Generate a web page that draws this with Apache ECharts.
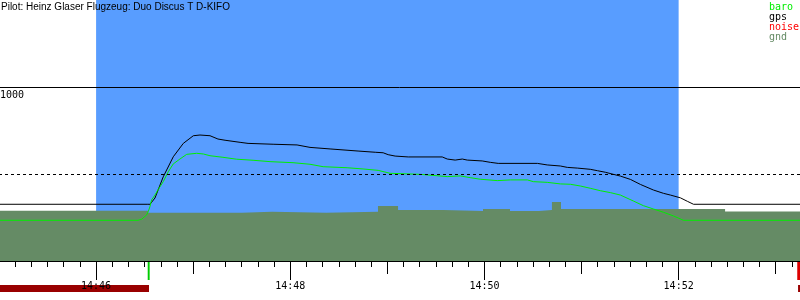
<!DOCTYPE html>
<html><head><meta charset="utf-8">
<script src="https://cdn.jsdelivr.net/npm/echarts@6/dist/echarts.min.js"></script>
<style>html,body{margin:0;padding:0;background:#fff}#c{width:800px;height:300px}</style>
</head><body><div id="c"></div>
<script>
// ---------- data ----------
const titleText = 'Pilot: Heinz Glaser Flugzeug: Duo Discus T D-KIFO';
const legendNames = ['baro', 'gps', 'noise', 'gnd'];
const viewStart = '14:45:00';
const viewEnd = '14:53:15';
const taskWindow = ['14:46:00', '14:52:00'];
const refLevels = [1000, 500];          // m : solid, dashed
const yLabelShown = [1000];
// seconds after viewStart
const gndSec = [0, 92.1, 150.2, 168.7, 202.1, 234.2, 246.6, 274.4, 299.1, 315.8, 333.7, 341.7, 347.3, 448.7, 495];
const gndAlt = [289, 277, 283, 277, 283, 316, 293, 287, 299, 287, 293, 339, 299, 285, 285];
const gpsSec = [0, 92.0, 93.3, 96.4, 101.5, 107.7, 113.9, 120.1, 124.2, 130.4, 135.3, 139.7, 149.0, 153.9, 169.4, 184.2, 192.2, 204.6, 221.9, 232.5, 237.4, 240.5, 244.8, 252.9, 273.9, 277.0, 281.9, 286.3, 289.4, 298.6, 303.6, 308.5, 332.7, 338.8, 346.9, 351.2, 357.4, 365.4, 369.8, 374.7, 379.7, 384.0, 390.2, 396.4, 404.4, 410.6, 414.9, 421.1, 425.4, 429.2, 495];
const gpsAlt = [326, 326, 326, 362, 484, 599, 676, 720, 724, 720, 701, 694, 682, 676, 671, 667, 653, 644, 632, 625, 622, 611, 603, 598, 598, 586, 580, 586, 580, 575, 567, 561, 561, 552, 546, 538, 534, 527, 519, 510, 498, 488, 469, 440, 408, 389, 379, 363, 343, 326, 326];
const baroSec = [0, 85.9, 88.1, 89.1, 91.2, 92.2, 93.3, 94.3, 96.4, 98.2, 101.5, 104.6, 107.7, 111.8, 116.0, 122.2, 126.3, 130.4, 138.4, 146.9, 157.0, 167.5, 181.7, 192.2, 200.3, 215.1, 225.0, 234.3, 241.7, 260.3, 270.8, 277.0, 285.0, 291.2, 297.4, 307.9, 316.0, 326.5, 330.2, 338.8, 346.9, 353.1, 359.3, 365.4, 371.6, 377.8, 384.0, 392.0, 398.2, 404.4, 410.6, 416.8, 423.0, 495];
const baroAlt = [234, 234, 240, 249, 264, 283, 313, 351, 379, 408, 456, 513, 558, 586, 613, 619, 615, 605, 596, 585, 579, 571, 565, 556, 542, 536, 529, 521, 504, 498, 490, 485, 489, 479, 470, 462, 466, 466, 456, 452, 443, 441, 431, 418, 404, 393, 379, 345, 318, 299, 280, 259, 234, 234];
const noiseSpans = [[0, 92.7], [493.8, 495]];        // dark red band
const markerSpans = [[91.9, 93.1, '#00cc00'], [493.3, 495, '#dd0000']];

// ---------- build ----------
function toSec(s) { const p = s.split(':').map(Number); return p[0] * 3600 + p[1] * 60 + (p[2] || 0); }
const sMin = toSec(viewStart), sMax = toSec(viewEnd);
const GL = -1;
const pps = (800 - GL) / (sMax - sMin);
const aMin = Math.floor(sMin / 120) * 120, aMax = Math.ceil(sMax / 120) * 120;
const g1Left = GL - (sMin - aMin) * pps;
const g1Right = -(aMax - sMax) * pps;
const pair = (ts, vs) => ts.map((t, i) => [sMin + t, vs[i]]);
const pad = n => (n < 10 ? '0' : '') + n;
const MONO = 'DejaVu Sans Mono';
const colors = { baro: '#00ee00', gps: '#000000', noise: '#ff0000', gnd: '#658b65' };

const hidX = (gi, min, max) => ({ gridIndex: gi, type: 'value', min, max, show: false });
const hidY = gi => ({ gridIndex: gi, type: 'value', min: 0, max: 1, show: false });
const tickAxis = (interval, len, labels) => ({
  gridIndex: 1, type: 'value', position: 'bottom', min: aMin, max: aMax, interval, z: 10,
  axisLine: { show: labels, onZero: false, lineStyle: { color: '#000', width: 1 } },
  axisTick: { show: true, length: len, lineStyle: { color: '#000', width: 1 } },
  splitLine: { show: false },
  axisLabel: labels ? {
    show: true, margin: 20, color: '#000', fontFamily: MONO, fontSize: 10, lineHeight: 10,
    hideOverlap: false,
    formatter: v => Math.floor(v / 3600) + ':' + pad(Math.floor((v % 3600) / 60))
  } : { show: false }
});
const gridBase = { outerBoundsMode: 'none', containLabel: false };

const option = {
  animation: false,
  backgroundColor: '#fff',
  title: { text: titleText, left: 0, top: 0, padding: [2, 0, 0, 1],
    textStyle: { fontFamily: 'Liberation Sans', fontSize: 10, fontWeight: 'normal', color: '#000' } },
  legend: {
    data: legendNames.map(n => ({ name: n, textStyle: { color: colors[n] } })),
    orient: 'vertical', left: 764, top: 2, padding: 0, itemGap: 0,
    itemWidth: 0, itemHeight: 10, icon: 'none', selectedMode: false,
    textStyle: { fontFamily: MONO, fontSize: 10, lineHeight: 10 }
  },
  grid: [
    Object.assign({ left: GL, right: 0, top: 0, height: 261 }, gridBase),
    Object.assign({ left: g1Left, right: g1Right, top: 0, height: 261 }, gridBase),
    Object.assign({ left: GL, right: 0, top: 285, height: 7 }, gridBase),
    Object.assign({ left: GL, right: 0, top: 262, height: 18 }, gridBase)
  ],
  xAxis: [
    hidX(0, sMin, sMax),
    tickAxis(120, 19, true),
    tickAxis(60, 13, false),
    tickAxis(10, 6, false),
    hidX(2, sMin, sMax),
    hidX(3, sMin, sMax)
  ],
  yAxis: [
    { gridIndex: 0, type: 'value', min: 0, max: 1500, interval: 500,
      axisLine: { show: false }, axisTick: { show: false }, splitLine: { show: false },
      axisLabel: { inside: true, margin: 1, align: 'left', verticalAlign: 'top', padding: [3, 0, 0, 0],
        color: '#000', fontFamily: MONO, fontSize: 10, lineHeight: 10,
        formatter: v => yLabelShown.includes(v) ? String(v) : '' } },
    hidY(1), hidY(2), hidY(3)
  ],
  series: [
    { name: 'task', type: 'line', xAxisIndex: 0, yAxisIndex: 0, data: [], z: 0, silent: true,
      markArea: { silent: true, label: { show: false },
        itemStyle: { color: '#589dff', opacity: 1, borderWidth: 0 },
        data: [[{ xAxis: toSec(taskWindow[0]) }, { xAxis: toSec(taskWindow[1]) }]] } },
    { name: 'gnd', type: 'line', xAxisIndex: 0, yAxisIndex: 0, step: 'end', z: 1,
      symbol: 'none', lineStyle: { width: 0, color: colors.gnd }, itemStyle: { color: colors.gnd },
      areaStyle: { color: colors.gnd, opacity: 1 }, data: pair(gndSec, gndAlt) },
    { name: 'ref', type: 'line', xAxisIndex: 0, yAxisIndex: 0, data: [], z: 2, silent: true,
      markLine: { silent: true, symbol: ['none', 'none'], label: { show: false },
        data: refLevels.map((v, i) => ({ yAxis: v,
          lineStyle: { color: '#000', width: 1, type: i === 0 ? 'solid' : [3, 3] } })) } },
    { name: 'gps', type: 'line', xAxisIndex: 0, yAxisIndex: 0, z: 3, symbol: 'none',
      lineStyle: { width: 1, color: colors.gps }, itemStyle: { color: colors.gps }, data: pair(gpsSec, gpsAlt) },
    { name: 'baro', type: 'line', xAxisIndex: 0, yAxisIndex: 0, z: 4, symbol: 'none',
      lineStyle: { width: 1, color: colors.baro }, itemStyle: { color: colors.baro }, data: pair(baroSec, baroAlt) },
    { name: 'noise', type: 'line', xAxisIndex: 4, yAxisIndex: 2, data: [], z: 1, silent: true,
      itemStyle: { color: colors.noise },
      markArea: { silent: true, label: { show: false },
        itemStyle: { color: '#990000', opacity: 1, borderWidth: 0 },
        data: noiseSpans.map(s => [{ xAxis: sMin + s[0] }, { xAxis: sMin + s[1] }]) } },
    { name: 'marks', type: 'line', xAxisIndex: 5, yAxisIndex: 3, data: [], z: 1, silent: true,
      markArea: { silent: true, label: { show: false },
        data: markerSpans.map(s => [{ xAxis: sMin + s[0], itemStyle: { color: s[2], opacity: 1, borderWidth: 0 } }, { xAxis: sMin + s[1] }]) } }
  ]
};
const chart = echarts.init(document.getElementById('c'), null, { renderer: 'canvas' });
chart.setOption(option);
</script>
</body></html>
